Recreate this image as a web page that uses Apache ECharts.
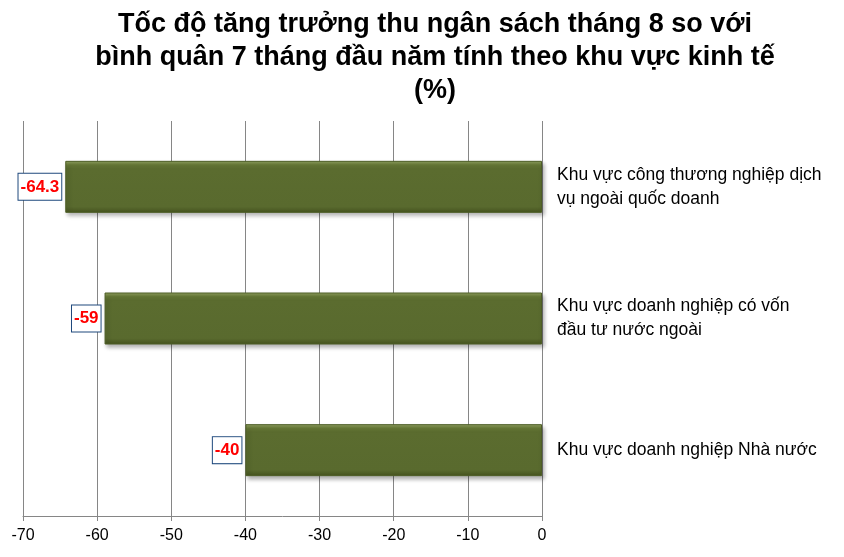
<!DOCTYPE html>
<html>
<head>
<meta charset="utf-8">
<script src="https://cdn.jsdelivr.net/npm/echarts@6/dist/echarts.min.js"></script>
<style>
  html, body { margin: 0; padding: 0; background: #fff; }
  #chart { width: 844px; height: 557px; }
</style>
</head>
<body>
<div id="chart"></div>
<script>
// categories from top to bottom
var categories = [
  'Khu vực công thương nghiệp dịch\nvụ ngoài quốc doanh',
  'Khu vực doanh nghiệp có vốn\nđầu tư nước ngoài',
  'Khu vực doanh nghiệp Nhà nước'
]
var values = [-64.3, -59, -40]
var titleText = 'Tốc độ tăng trưởng thu ngân sách tháng 8 so với\nbình quân 7 tháng đầu năm tính theo khu vực kinh tế\n(%)'

var chart = echarts.init(document.getElementById('chart'))
var option = {
  animation: false,
  title: {
    text: titleText,
    left: 430,
    textAlign: 'center',
    top: 3,
    textStyle: {
      fontFamily: 'Liberation Sans, Arial',
      fontSize: 27,
      fontWeight: 'bold',
      color: '#000',
      lineHeight: 33
    }
  },
  grid: { left: 23, right: 302, top: 121, bottom: 41 },
  xAxis: {
    type: 'value',
    min: -70,
    max: 0,
    interval: 10,
    axisLine: { show: true, lineStyle: { color: '#868686' } },
    axisTick: { show: true, length: 5, lineStyle: { color: '#868686' } },
    axisLabel: { color: '#000', fontSize: 16, fontFamily: 'Liberation Sans, Arial', margin: 12 },
    splitLine: { show: true, lineStyle: { color: '#868686' } }
  },
  yAxis: {
    type: 'category',
    data: categories,
    inverse: true,
    position: 'right',
    axisLine: { show: false },
    axisTick: { show: false },
    axisLabel: {
      color: '#000',
      fontSize: 17.5,
      lineHeight: 24,
      align: 'left',
      margin: 15,
      fontFamily: 'Liberation Sans, Arial'
    }
  },
  series: [{
    type: 'bar',
    data: values,
    barWidth: 52,
    itemStyle: {
      color: new echarts.graphic.LinearGradient(0, 0, 0, 1, [
        { offset: 0, color: '#93a363' },
        { offset: 0.08, color: '#687b37' },
        { offset: 0.15, color: '#5b6c2f' },
        { offset: 0.88, color: '#596a2e' },
        { offset: 1, color: '#45531f' }
      ]),
      borderColor: '#4e5e26',
      borderWidth: 1,
      shadowColor: 'rgba(0,0,0,0.3)',
      shadowBlur: 4,
      shadowOffsetX: 2,
      shadowOffsetY: 3
    },
    label: {
      show: true,
      position: 'left',
      distance: 4,
      color: '#ff0000',
      fontWeight: 'bold',
      fontSize: 17,
      fontFamily: 'Liberation Sans, Arial',
      backgroundColor: '#fff',
      borderColor: '#1f497d',
      borderWidth: 1,
      padding: [5, 2, 4, 2]
    }
  }]
}
chart.setOption(option)
</script>
</body>
</html>
